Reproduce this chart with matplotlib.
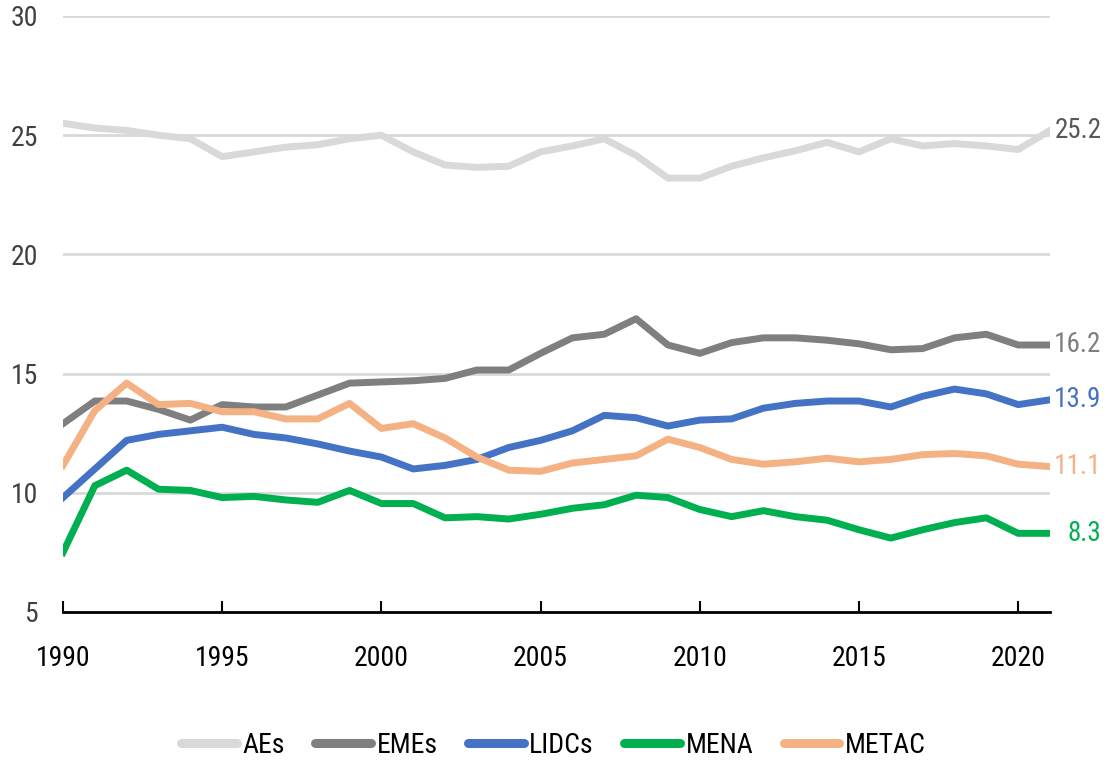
import numpy as np
import matplotlib
matplotlib.use('Agg')
import matplotlib.pyplot as plt
from matplotlib import font_manager

years = np.arange(1990, 2022)

aes = [25.5, 25.3, 25.2, 25.0, 24.85, 24.1, 24.3, 24.5, 24.6, 24.85, 25.0,
       24.3, 23.75, 23.65, 23.7, 24.3, 24.55, 24.85, 24.15, 23.2, 23.2,
       23.7, 24.05, 24.35, 24.7, 24.3, 24.85, 24.55, 24.65, 24.55, 24.4, 25.2]
emes = [12.9, 13.85, 13.85, 13.5, 13.05, 13.7, 13.6, 13.6, 14.1, 14.6, 14.65,
        14.7, 14.8, 15.15, 15.15, 15.85, 16.5, 16.65, 17.3, 16.2, 15.85,
        16.3, 16.5, 16.5, 16.4, 16.25, 16.0, 16.05, 16.5, 16.65, 16.2, 16.2]
lidcs = [9.8, 11.0, 12.2, 12.45, 12.6, 12.75, 12.45, 12.3, 12.05, 11.75, 11.5,
         11.0, 11.15, 11.4, 11.9, 12.2, 12.6, 13.25, 13.15, 12.8, 13.05,
         13.1, 13.55, 13.75, 13.85, 13.85, 13.6, 14.05, 14.35, 14.15, 13.7, 13.9]
mena = [7.5, 10.3, 10.95, 10.15, 10.1, 9.8, 9.85, 9.7, 9.6, 10.1, 9.55,
        9.55, 8.95, 9.0, 8.9, 9.1, 9.35, 9.5, 9.9, 9.8, 9.3,
        9.0, 9.25, 9.0, 8.85, 8.45, 8.1, 8.45, 8.75, 8.95, 8.3, 8.3]
metac = [11.15, 13.45, 14.6, 13.7, 13.75, 13.4, 13.4, 13.1, 13.1, 13.75, 12.7,
         12.9, 12.3, 11.5, 10.95, 10.9, 11.25, 11.4, 11.55, 12.25, 11.9,
         11.4, 11.2, 11.3, 11.45, 11.3, 11.4, 11.6, 11.65, 11.55, 11.2, 11.1]

names = ['AEs', 'EMEs', 'LIDCs', 'MENA', 'METAC']
colors = ['#d9d9d9', '#7f7f7f', '#4472c4', '#00b050', '#f4b183']
label_colors = ['#595959', '#7f7f7f', '#4472c4', '#00b050', '#f4b183']
series = [aes, emes, lidcs, mena, metac]

# narrow font if one is there, Calibri-ish look
installed = {f.name for f in font_manager.fontManager.ttflist}
for fam in ['Liberation Sans Narrow', 'Roboto Condensed', 'Open Sans Condensed']:
    if fam in installed:
        plt.rcParams['font.family'] = [fam, 'DejaVu Sans']
        break
else:
    plt.rcParams['font.family'] = ['DejaVu Sans']
    plt.rcParams['font.stretch'] = 'condensed'

fig = plt.figure(figsize=(11.07, 7.64), dpi=100)
ax = fig.add_axes([63 / 1107, 1 - 612 / 764, (1050 - 63) / 1107, (612 - 16) / 764])

for vals, c, n in zip(series, colors, names):
    ax.plot(years, vals, color=c, lw=5, label=n)

for vals, c in zip(series, label_colors):
    ax.annotate('{:.1f}'.format(vals[-1]), xy=(years[-1], vals[-1]),
                xytext=(37, 0), textcoords='offset points', ha='right',
                va='center', color=c, fontsize=19.5, annotation_clip=False)

ax.set_xlim(1990, 2021)
ax.set_ylim(5, 30)
ax.set_yticks(np.arange(5, 31, 5))
ax.set_xticks(np.arange(1990, 2021, 5))
ax.yaxis.grid(True, color='#d9d9d9', lw=2)
ax.set_axisbelow(True)
for s in ['top', 'right', 'left']:
    ax.spines[s].set_visible(False)
ax.spines['bottom'].set_linewidth(2)
ax.tick_params(axis='y', length=0, pad=18, labelsize=20, labelcolor='#404040')
ax.tick_params(axis='x', direction='in', length=8, width=1.5, pad=24,
               labelsize=20)

leg = fig.legend(loc='lower center', bbox_to_anchor=(0.5, -0.026), ncol=5,
                 frameon=False, fontsize=20, handlelength=2.0,
                 handletextpad=0.2, columnspacing=1.1)
for h in leg.get_lines():
    h.set_linewidth(6.5)
    h.set_solid_capstyle('round')

fig.savefig('out.png', dpi=100)
